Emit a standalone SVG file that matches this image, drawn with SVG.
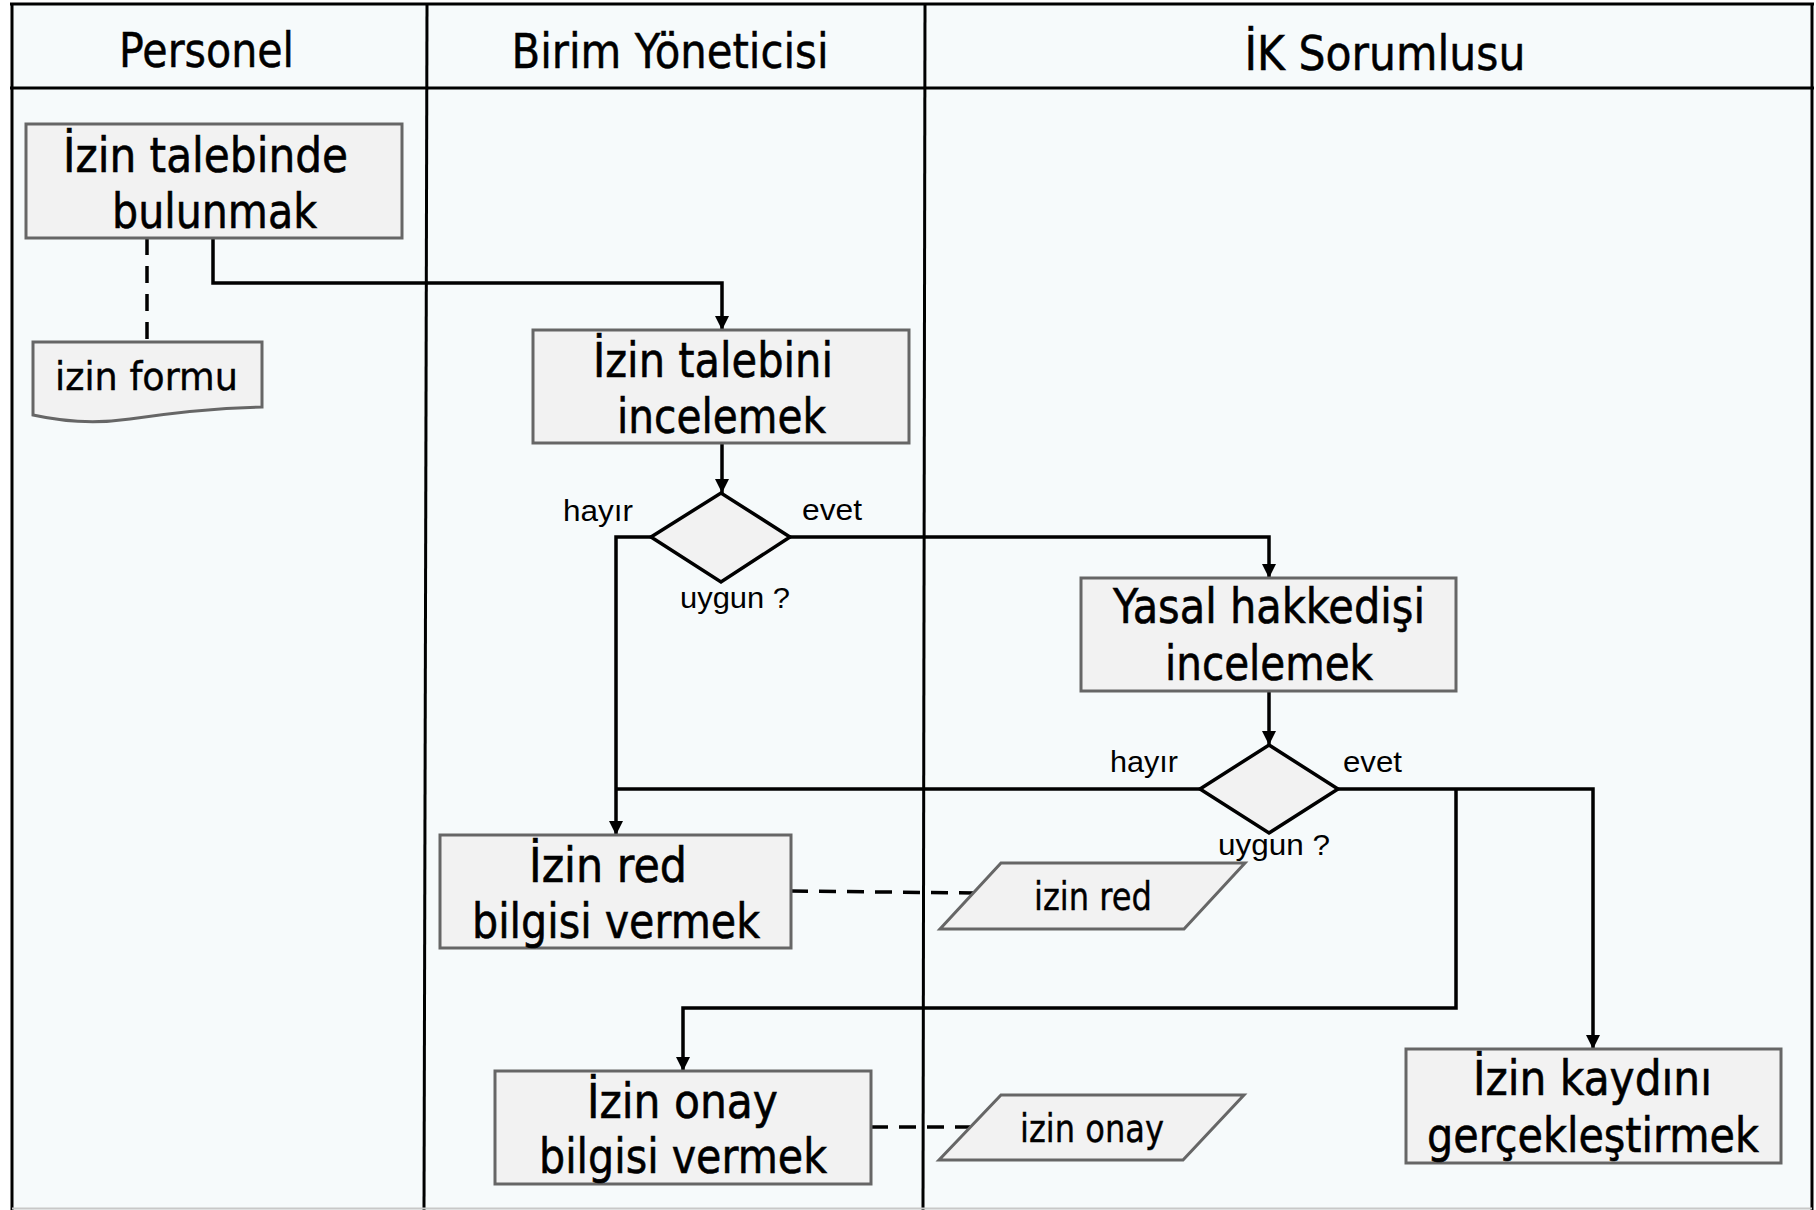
<svg xmlns="http://www.w3.org/2000/svg" width="1816" height="1210" viewBox="0 0 1816 1210">
  <style>
    .lane { fill: none; stroke: #000; stroke-width: 3; }
    .hdr { font-family: "DejaVu Sans", "Liberation Sans", sans-serif; font-size: 48px; fill: #000; stroke: #000; stroke-width: 0.5; text-anchor: middle; }
    .box { fill: #f2f2f2; stroke: #666; stroke-width: 3; }
    .dia { fill: #f2f2f2; stroke: #000; stroke-width: 3.5; stroke-linejoin: miter; }
    .doc { fill: #f2f2f2; stroke: #666; stroke-width: 3; }
    .t { font-family: "DejaVu Sans", "Liberation Sans", sans-serif; font-size: 48px; fill: #000; stroke: #000; stroke-width: 0.6; text-anchor: middle; }
    .td { font-family: "DejaVu Sans", "Liberation Sans", sans-serif; font-size: 39px; fill: #000; stroke: #000; stroke-width: 0.4; text-anchor: middle; }
    .lbl { font-family: "Liberation Sans", Arial, sans-serif; font-size: 30px; fill: #000; text-anchor: middle; }
    .flow { fill: none; stroke: #000; stroke-width: 3.5; }
    .dash { fill: none; stroke: #000; stroke-width: 3.5; stroke-dasharray: 17 11; }
  </style>
  <defs>
    <marker id="arrow" viewBox="0 0 14 14" refX="14" refY="7" markerWidth="14" markerHeight="14" markerUnits="userSpaceOnUse" orient="auto">
      <path d="M0,0 L14,7 L0,14 Z" fill="#000"/>
    </marker>
  </defs>

  <!-- page and swimlane frame -->
  <rect x="0" y="0" width="1816" height="1210" fill="#ffffff"/>
  <rect x="12" y="4" width="1800" height="1206" fill="#f6fafb"/>
  <g id="lanes">
    <line class="lane" x1="10" y1="4" x2="1814" y2="4"/>
    <line class="lane" x1="12" y1="4" x2="12" y2="1210"/>
    <line class="lane" x1="1812" y1="4" x2="1812" y2="1210"/>
    <line class="lane" x1="10" y1="88" x2="1814" y2="88"/>
    <line class="lane" x1="427" y1="4" x2="424" y2="1210"/>
    <line class="lane" x1="925" y1="4" x2="923" y2="1210"/>
    <line x1="12" y1="1208.5" x2="1812" y2="1208.5" stroke="#c8c8c8" stroke-width="2"/>
    <text class="hdr" x="206.5" y="67" textLength="175" lengthAdjust="spacingAndGlyphs">Personel</text>
    <text class="hdr" x="670" y="68" textLength="317" lengthAdjust="spacingAndGlyphs">Birim Yöneticisi</text>
    <text class="hdr" x="1385" y="70" textLength="281" lengthAdjust="spacingAndGlyphs">İK Sorumlusu</text>
  </g>

  <!-- connectors -->
  <g id="connectors">
    <polyline class="flow" points="213,238 213,283 722,283 722,330" marker-end="url(#arrow)"/>
    <polyline class="flow" points="722,443 722,493" marker-end="url(#arrow)"/>
    <polyline class="flow" points="651,537 616,537 616,835" marker-end="url(#arrow)"/>
    <polyline class="flow" points="790,537 1269,537 1269,578" marker-end="url(#arrow)"/>
    <polyline class="flow" points="1269,691 1269,745" marker-end="url(#arrow)"/>
    <polyline class="flow" points="1200,789 616,789"/>
    <polyline class="flow" points="1338,789 1593,789 1593,1049" marker-end="url(#arrow)"/>
    <polyline class="flow" points="1456,789 1456,1008 683,1008 683,1071" marker-end="url(#arrow)"/>
    <line class="dash" x1="147" y1="238" x2="147" y2="342"/>
    <line class="dash" x1="791" y1="891" x2="974" y2="893"/>
    <line class="dash" x1="871" y1="1127" x2="970" y2="1127"/>
  </g>

  <!-- decision labels -->
  <g id="labels">
    <text class="lbl" x="598" y="521" textLength="70" lengthAdjust="spacingAndGlyphs">hayır</text>
    <text class="lbl" x="832" y="520" textLength="60" lengthAdjust="spacingAndGlyphs">evet</text>
    <text class="lbl" x="1144" y="772" textLength="68" lengthAdjust="spacingAndGlyphs">hayır</text>
    <text class="lbl" x="1372.5" y="772" textLength="59" lengthAdjust="spacingAndGlyphs">evet</text>
  </g>

  <g id="izin-talebinde-bulunmak">
    <rect class="box" x="26" y="124" width="376" height="114"/>
    <text class="t" x="205.5" y="172" textLength="285" lengthAdjust="spacingAndGlyphs">İzin talebinde</text>
    <text class="t" x="214.5" y="228" textLength="205" lengthAdjust="spacingAndGlyphs">bulunmak</text>
  </g>

  <g id="izin-formu">
    <path class="doc" d="M33,342 H262 V407 C215,408 170,413 130,419 C95,424 60,421 33,415 Z"/>
    <text class="td" x="146.5" y="390" font-size="40" textLength="183" lengthAdjust="spacingAndGlyphs">izin formu</text>
  </g>

  <g id="izin-talebini-incelemek">
    <rect class="box" x="533" y="330" width="376" height="113"/>
    <text class="t" x="713" y="377" textLength="240" lengthAdjust="spacingAndGlyphs">İzin talebini</text>
    <text class="t" x="721.5" y="433" textLength="209" lengthAdjust="spacingAndGlyphs">incelemek</text>
  </g>

  <g id="karar-birim">
    <polygon class="dia" points="651,537 721,493 790,537 721,582"/>
    <text class="lbl" x="735" y="608" textLength="110" lengthAdjust="spacingAndGlyphs">uygun ?</text>
  </g>

  <g id="yasal-hakkedisi-incelemek">
    <rect class="box" x="1081" y="578" width="375" height="113"/>
    <text class="t" x="1269" y="623" textLength="312" lengthAdjust="spacingAndGlyphs">Yasal hakkedişi</text>
    <text class="t" x="1269" y="680" textLength="208" lengthAdjust="spacingAndGlyphs">incelemek</text>
  </g>

  <g id="karar-ik">
    <polygon class="dia" points="1200,789 1269,745 1338,789 1269,833"/>
    <text class="lbl" x="1274" y="855" textLength="112" lengthAdjust="spacingAndGlyphs">uygun ?</text>
  </g>

  <g id="izin-red-bilgisi-vermek">
    <rect class="box" x="440" y="835" width="351" height="113"/>
    <text class="t" x="608" y="882" textLength="158" lengthAdjust="spacingAndGlyphs">İzin red</text>
    <text class="t" x="616" y="938" textLength="288" lengthAdjust="spacingAndGlyphs">bilgisi vermek</text>
  </g>

  <g id="izin-red">
    <polygon class="doc" points="1001,863 1245,863 1184,929 940,929"/>
    <text class="td" x="1093" y="910" textLength="118" lengthAdjust="spacingAndGlyphs">izin red</text>
  </g>

  <g id="izin-onay-bilgisi-vermek">
    <rect class="box" x="495" y="1071" width="376" height="113"/>
    <text class="t" x="682.5" y="1118" textLength="191" lengthAdjust="spacingAndGlyphs">İzin onay</text>
    <text class="t" x="683" y="1173" textLength="288" lengthAdjust="spacingAndGlyphs">bilgisi vermek</text>
  </g>

  <g id="izin-onay">
    <polygon class="doc" points="1001,1095 1244,1095 1183,1160 939,1160"/>
    <text class="td" x="1092" y="1142" textLength="144" lengthAdjust="spacingAndGlyphs">izin onay</text>
  </g>

  <g id="izin-kaydini-gerceklestirmek">
    <rect class="box" x="1406" y="1049" width="375" height="114"/>
    <text class="t" x="1592.5" y="1095" textLength="239" lengthAdjust="spacingAndGlyphs">İzin kaydını</text>
    <text class="t" x="1593" y="1152" textLength="332" lengthAdjust="spacingAndGlyphs">gerçekleştirmek</text>
  </g>
</svg>
